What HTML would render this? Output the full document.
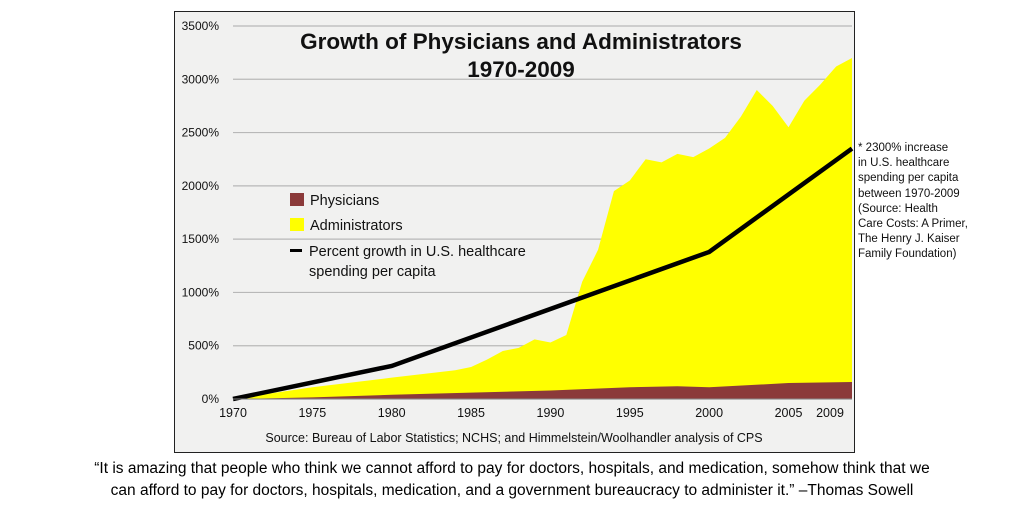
<!DOCTYPE html>
<html><head><meta charset="utf-8"><style>
body{margin:0;width:1024px;height:512px;background:#fff;overflow:hidden;font-family:"Liberation Sans",sans-serif;position:relative}
.abs{position:absolute}
</style></head><body>
<div class="abs" style="left:174px;top:11px;width:679px;height:440px;border:1px solid #222;background:#f1f1f0"></div>
<svg class="abs" style="left:0;top:0" width="1024" height="512" id="chart"></svg>
<div class="abs" style="left:271px;top:28px;width:500px;text-align:center;font-size:22.5px;font-weight:bold;line-height:28px;color:#111;white-space:nowrap">Growth of Physicians and Administrators<br>1970-2009</div>
<div class="abs" style="left:290px;top:189px;font-size:14.5px;color:#111;line-height:25px">
<div><span style="display:inline-block;width:14px;height:13px;background:#8b3a3a;vertical-align:-1px;margin-right:6px"></span>Physicians</div>
<div><span style="display:inline-block;width:14px;height:13px;background:#ffff00;vertical-align:-1px;margin-right:6px"></span>Administrators</div>
<div style="line-height:20px;margin-top:3px"><span style="display:inline-block;width:12px;height:3px;background:#000;vertical-align:4px;margin-right:7px"></span>Percent growth in U.S. healthcare<br><span style="margin-left:19px">spending per capita</span></div>
</div>
<div class="abs" style="left:174px;top:431px;width:680px;text-align:center;font-size:12.5px;color:#111">Source: Bureau of Labor Statistics; NCHS; and Himmelstein/Woolhandler analysis of CPS</div>
<div class="abs" style="left:858px;top:141px;font-size:11.5px;line-height:15.2px;color:#111">* 2300% increase<br>in U.S. healthcare<br>spending per capita<br>between 1970-2009<br>(Source: Health<br>Care Costs: A Primer,<br>The Henry J. Kaiser<br>Family Foundation)</div>
<div class="abs" style="left:0;top:458px;width:1024px;text-align:center;font-size:15.5px;line-height:22px;color:#000">“It is amazing that people who think we cannot afford to pay for doctors, hospitals, and medication, somehow think that we<br>can afford to pay for doctors, hospitals, medication, and a government bureaucracy to administer it.” –Thomas Sowell</div>
<script>
const years=[1970,1975,1980,1984,1985,1986,1987,1988,1989,1990,1991,1992,1993,1994,1995,1996,1997,1998,1999,2000,2001,2002,2003,2004,2005,2006,2007,2008,2009];
const administrators=[0,110,200,270,300,370,450,480,560,530,600,1100,1400,1950,2050,2250,2220,2300,2270,2350,2450,2650,2900,2750,2550,2800,2950,3120,3200];
const physYears=[1970,1975,1980,1985,1990,1995,1998,2000,2005,2009];
const physicians=[0,15,40,60,80,110,120,110,150,160];
const spendYears=[1970,1980,2000,2009];
const spending=[0,310,1380,2350];
const yTicks=[0,500,1000,1500,2000,2500,3000,3500];
const xTicks=[1970,1975,1980,1985,1990,1995,2000,2005,2009];
const svg=document.getElementById('chart');const NS='http://www.w3.org/2000/svg';
const X=y=>233+(y-1970)*(852-233)/39;
const Y=v=>399-v*(373/3500);
function mk(t,a){const e=document.createElementNS(NS,t);for(const k in a)e.setAttribute(k,a[k]);svg.appendChild(e);return e;}
yTicks.forEach(v=>{
 const l=mk('line',{x1:233,x2:852,y1:Y(v),y2:Y(v),stroke:'#b8b8b8','stroke-width':1.2});
 
 
 const t=mk('text',{x:219,y:Y(v)+4,'text-anchor':'end','font-size':12,fill:'#111','font-family':'Liberation Sans'});
 t.textContent=v+'%';
 
 
});
function area(xs,vs,fill,name){
 let d='M'+X(xs[0])+','+Y(0);
 xs.forEach((x,i)=>d+=' L'+X(x)+','+Y(vs[i]));
 d+=' L'+X(xs[xs.length-1])+','+Y(0)+'Z';
 const p=mk('path',{d:d,fill:fill});
 
 
}
area(years,administrators,'#ffff00','administrators-area');
area(physYears,physicians,'#8b3a3a','physicians-area');
const ln=mk('polyline',{points:spendYears.map((y,i)=>X(y)+','+Y(spending[i])).join(' '),fill:'none',stroke:'#000','stroke-width':4.5});


const ax=mk('line',{x1:233,x2:852,y1:399,y2:399,stroke:'#888','stroke-width':1});


xTicks.forEach(y=>{
 const t=mk('text',{x:y===2009?X(y)-22:X(y),y:417,'text-anchor':'middle','font-size':12.5,fill:'#111','font-family':'Liberation Sans'});
 t.textContent=y;
 
 
});
</script>
</body></html>
